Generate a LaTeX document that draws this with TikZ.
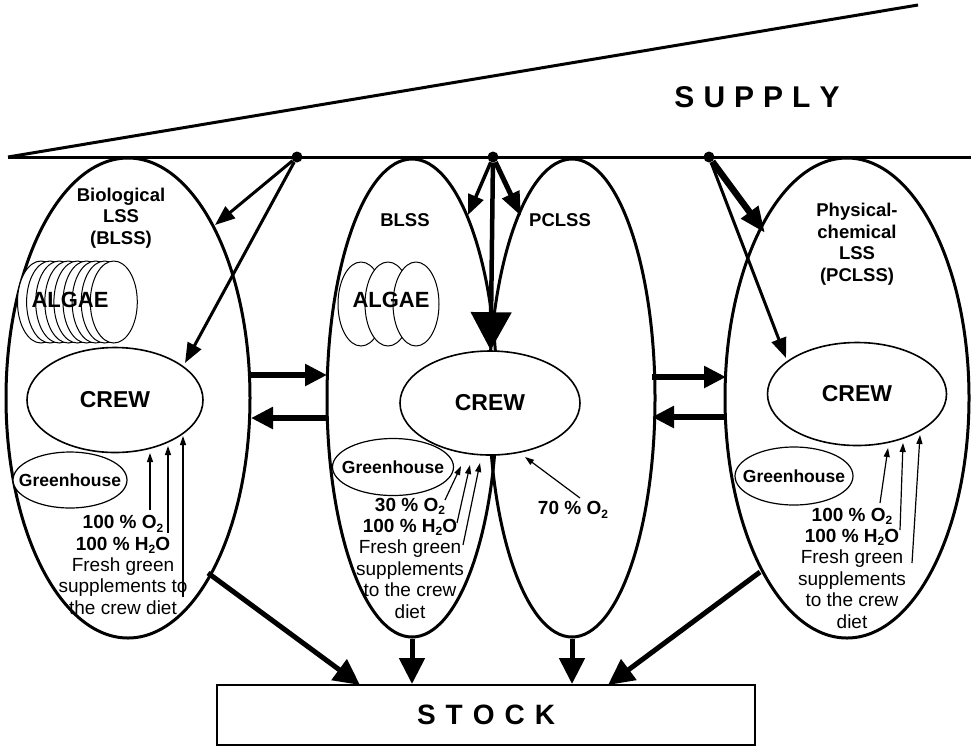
\documentclass[tikz,border=0pt]{standalone}
\usepackage{fontspec}
\setmainfont{Liberation Sans}
\usetikzlibrary{arrows.meta,shapes.geometric}
\newcommand\subsc[1]{\raisebox{-0.35ex}{\fontsize{12}{12}\selectfont #1}}
\tikzset{
  zone/.style={draw,ellipse,line width=3pt,inner sep=0pt},
  crewbox/.style={draw,ellipse,fill=white,line width=1.6pt,inner sep=0pt,font=\fontsize{23}{23}\selectfont\bfseries},
  ghouse/.style={draw,ellipse,fill=white,line width=1.2pt,inner sep=0pt},
  ghtext/.style={font=\fontsize{17.5}{17.5}\selectfont\bfseries,inner sep=0pt},
  algaedisc/.style={draw,ellipse,fill=white,line width=1pt,inner sep=0pt,minimum width=47pt,minimum height=82pt},
  dot/.style={circle,fill,inner sep=0pt,minimum size=11pt},
  title/.style={font=\fontsize{18.5}{21.5}\selectfont\bfseries,align=center},
  note/.style={align=center,font=\fontsize{19}{21.4}\selectfont},
  flow/.style={line width=3pt,-{Triangle[length=20pt,width=15pt]}},
  bigflow/.style={line width=6pt,-{Triangle[length=22pt,width=21pt]}},
  stockflow/.style={line width=5pt,-{Triangle[length=26pt,width=25pt]}},
  thin/.style={line width=1.2pt,-{Triangle[length=9pt,width=6pt]}},
}
\begin{document}
\begin{tikzpicture}[x=1pt,y=-1pt]
\useasboundingbox (0,0) rectangle (971,748);

% supply wedge
\coordinate (apex) at (8,157);
\coordinate (lineEnd) at (971,157);
\coordinate (wedgeTop) at (918,5);
\draw[line width=3pt] (apex) -- (lineEnd);
\draw[line width=3pt] (apex) -- (wedgeTop);
\node (supply) at (757,97) {\fontsize{30}{30}\selectfont\bfseries S\kern9pt U\kern9pt P\kern9pt P\kern9pt L\kern9pt Y};

% four life-support zones
\node[zone,minimum width=244pt,minimum height=480pt] (bio) at (128,398) {};
\node[zone,minimum width=170pt,minimum height=478pt] (blss) at (412,398) {};
\node[zone,minimum width=166pt,minimum height=478pt] (pclss) at (572,398) {};
\node[zone,minimum width=244pt,minimum height=480pt] (phy) at (847,398) {};

\node[title] (bioT) at (121,218) {Biological\\LSS\\(BLSS)};
\node[title] (blssT) at (405,220) {BLSS};
\node[title] (pclssT) at (560,220) {PCLSS};
\node[title] (phyT) at (857,244) {Physical-\\chemical\\LSS\\(PCLSS)};

% algae cultivators
\foreach \i in {0,...,8} {
  \node[algaedisc] (algL\i) at ({41+9.1*\i},302) {};
}
\node[font=\fontsize{22}{22}\selectfont\bfseries] (algaeL) at (70,300) {ALGAE};
\node[algaedisc,minimum width=46pt,minimum height=84pt] (algM1) at (361,304) {};
\node[algaedisc,minimum width=46pt,minimum height=84pt] (algM2) at (388,304) {};
\node[algaedisc,minimum width=46pt,minimum height=84pt] (algM3) at (416,304) {};
\node[font=\fontsize{22}{22}\selectfont\bfseries] (algaeM) at (391,300) {ALGAE};

% crews
\node[crewbox,minimum width=176pt,minimum height=105pt] (crewL) at (115,400) {CREW};
\node[crewbox,minimum width=180pt,minimum height=104pt] (crewM) at (490,403) {CREW};
\node[crewbox,minimum width=179pt,minimum height=103pt] (crewR) at (857,394) {CREW};

% greenhouses
\node[ghouse,minimum width=114pt,minimum height=56pt] (ghL) at (70,480) {};
\node[ghouse,minimum width=121pt,minimum height=57pt] (ghM) at (393,467) {};
\node[ghouse,minimum width=118pt,minimum height=58pt] (ghR) at (794,476) {};
\node[ghtext] (ghLt) at (ghL) {Greenhouse};
\node[ghtext] (ghMt) at (ghM) {Greenhouse};
\node[ghtext] (ghRt) at (ghR) {Greenhouse};

% supply branch points
\node[dot] (dotA) at (297,157) {};
\node[dot] (dotB) at (493,157) {};
\node[dot] (dotC) at (709,157) {};

\coordinate (bioIn) at (215,225);
\coordinate (crewLin) at (185,363);
\coordinate (blssIn) at (468,215);
\coordinate (pclssIn) at (521,216);
\coordinate (phyIn) at (765,233);
\coordinate (crewRin) at (786,358);

\draw[flow] (dotA) -- (bioIn);
\draw[flow] (dotA) -- (crewLin);
\draw[line width=3.5pt,-{Triangle[length=20pt,width=16pt]}] (dotB) -- (blssIn);
\draw[line width=5pt,-{Triangle[length=24pt,width=18pt]}] (dotB) -- (pclssIn);
\draw[line width=4.5pt,-{Triangle[length=38pt,width=40pt]}] (dotB) -- (crewM);
\draw[line width=6.5pt,-{Triangle[length=26pt,width=20pt]}] (dotC) -- (phyIn);
\draw[flow] (dotC) -- (crewRin);

% exchange between neighbouring systems
\coordinate (exA1) at (251,375); \coordinate (exA2) at (327,375);
\coordinate (exA3) at (327,418); \coordinate (exA4) at (251,418);
\coordinate (exB1) at (652,377); \coordinate (exB2) at (726,377);
\coordinate (exB3) at (726,417); \coordinate (exB4) at (652,417);
\draw[bigflow] (exA1) -- (exA2);
\draw[bigflow] (exA3) -- (exA4);
\draw[bigflow] (exB1) -- (exB2);
\draw[bigflow] (exB3) -- (exB4);

% inputs to the crews
\node[note] (noteL) at (123,565) {\textbf{100 \% O\subsc{2}}\\\textbf{100 \% H\subsc{2}O}\\Fresh green\\supplements to\\the crew diet};
\node[note] (noteM) at (410,558) {\textbf{30 \% O\subsc{2}}\\\textbf{100 \% H\subsc{2}O}\\Fresh green\\supplements\\to the crew\\diet};
\node[note] (noteR) at (852,568) {\textbf{100 \% O\subsc{2}}\\\textbf{100 \% H\subsc{2}O}\\Fresh green\\supplements\\to the crew\\diet};
\node[font=\fontsize{19}{19}\selectfont\bfseries] (noteP) at (573,510) {70 \% O\subsc{2}};

\coordinate (lA1) at (150,510); \coordinate (lB1) at (150,453);
\coordinate (lA2) at (168,533); \coordinate (lB2) at (168,446);
\coordinate (lA3) at (183,597); \coordinate (lB3) at (183,436);
\draw[thin] (lA1) -- (lB1);
\draw[thin] (lA2) -- (lB2);
\draw[thin] (lA3) -- (lB3);

\coordinate (mA1) at (445,500); \coordinate (mB1) at (461,466);
\coordinate (mA2) at (457,523); \coordinate (mB2) at (470,465);
\coordinate (mA3) at (463,545); \coordinate (mB3) at (480,463);
\draw[thin] (mA1) -- (mB1);
\draw[thin] (mA2) -- (mB2);
\draw[thin] (mA3) -- (mB3);
\coordinate (pA) at (580,498); \coordinate (pB) at (525,457);
\draw[thin] (pA) -- (pB);

\coordinate (rA1) at (880,503); \coordinate (rB1) at (888,448);
\coordinate (rA2) at (900,530); \coordinate (rB2) at (903,443);
\coordinate (rA3) at (912,563); \coordinate (rB3) at (920,435);
\draw[thin] (rA1) -- (rB1);
\draw[thin] (rA2) -- (rB2);
\draw[thin] (rA3) -- (rB3);

% stock
\node[draw,line width=2pt,minimum width=538pt,minimum height=60pt,inner sep=0pt] (stock) at (486,715)
  {\fontsize{28}{28}\selectfont\bfseries S\kern10pt T\kern10pt O\kern10pt C\kern10pt K};
\coordinate (bioOut) at (208,573);
\coordinate (phyOut) at (760,572);
\coordinate (stIn1) at (360,685);
\coordinate (stIn4) at (608,685);
\draw[stockflow] (bioOut) -- (stIn1);
\draw[stockflow] (blss.south) -- (blss.south |- stock.north);
\draw[stockflow] (pclss.south) -- (pclss.south |- stock.north);
\draw[stockflow] (phyOut) -- (stIn4);
\end{tikzpicture}
\end{document}
